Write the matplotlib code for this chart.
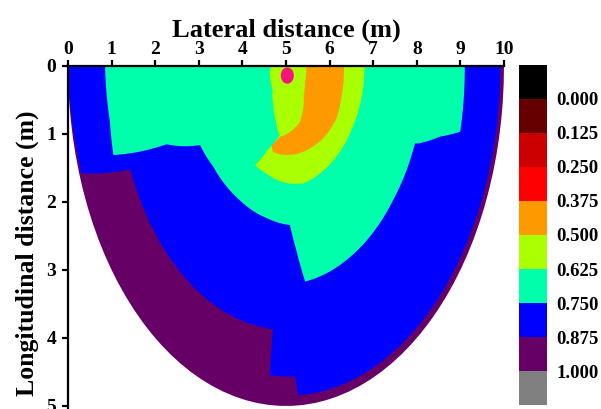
import numpy as np
import matplotlib
matplotlib.use("Agg")
import matplotlib.pyplot as plt
from matplotlib.colors import ListedColormap, BoundaryNorm
from matplotlib.colorbar import ColorbarBase
from matplotlib.patches import Ellipse

# ---------------- colour scale ----------------
LEVELS = [-0.125, 0.0, 0.125, 0.25, 0.375, 0.5, 0.625, 0.75, 0.875, 1.0, 1.125]
COLORS = ["#000000", "#660000", "#CC0000", "#FF0000", "#FF9900",
          "#AAFF00", "#00FFAA", "#0000FF", "#660066", "#808080"]
CBAR_TICKS = [0.0, 0.125, 0.25, 0.375, 0.5, 0.625, 0.75, 0.875, 1.0]
CBAR_LABELS = ["0.000", "0.125", "0.250", "0.375", "0.500",
               "0.625", "0.750", "0.875", "1.000"]

X_TICKS = [0, 1, 2, 3, 4, 5, 6, 7, 8, 9, 10]
Y_TICKS = [0, 1, 2, 3, 4, 5]

# source point
SOURCE_X = 5.03
SOURCE_Y = 0.14

# half-elliptic domain centred at (5, 0)
CENTER_X = 5.0

# ---------------- regions ----------------
# boundary of each zone in polar form about (5, 0):
# angle in degrees (0 = towards x=10 at surface, 90 = straight down, 180 = towards x=0), radius in m
PURPLE_THETA = [180, 0]
PURPLE_R = [5.0, 5.0]
PURPLE_VALUE = 0.94

BLUE_THETA = [180, 161.4, 156.9, 94.5, 94.7, 87.4, 86.7, 0]
BLUE_R = [5.0, 4.95, 3.88, 3.88, 4.56, 4.57, 4.85, 4.92]
BLUE_VALUE = 0.81

AQUA_THETA = [180, 168.6, 161.7, 159.4, 157.2, 149.5, 138.4, 118.3, 101,
              87.8, 85, 82.1, 62.3, 38.7, 21, 20.5, 16.4, 13.6, 0]
AQUA_R = [4.15, 4.12, 4.17, 3.58, 2.97, 2.29, 2.23, 2.24, 2.28,
          2.34, 2.72, 3.20, 3.17, 3.15, 3.17, 3.25, 3.68, 4.11, 4.10]
AQUA_VALUE = 0.69

YELLOW_THETA = [180, 133.2, 116.9, 105.7, 100.5, 97.9, 109, 115.9, 104.7,
                94.7, 76.9, 60.6, 34, 10.6, 0]
YELLOW_R = [0.35, 0.45, 0.64, 0.85, 0.99, 1.02, 1.31, 1.62, 1.65,
            1.70, 1.77, 1.76, 1.77, 1.80, 1.80]
YELLOW_VALUE = 0.56

ORANGE_THETA = [0, 27.6, 46.4, 68.7, 97.7, 105.9, 103.4, 86, 65.6, 47.4,
                33.6, 18.6, 1, 0]
ORANGE_R = [0.46, 0.49, 0.59, 0.88, 1.05, 1.21, 1.30, 1.31, 1.33, 1.37,
            1.39, 1.35, 1.33, 1.33]
ORANGE_VALUE = 0.44

plt.rcParams["font.family"] = ["Liberation Serif", "DejaVu Serif"]
plt.rcParams["font.weight"] = "bold"

cmap = ListedColormap(COLORS)
norm = BoundaryNorm(LEVELS, cmap.N)


def polar_outline(theta, r, through_centre):
    th = list(theta)
    rr = list(r)
    if through_centre:
        th = th + [th[-1], th[0]]
        rr = rr + [0.0, 0.0]
    th.append(th[0])
    rr.append(rr[0])
    xs, ys = [], []
    for i in range(len(th) - 1):
        t = np.linspace(th[i], th[i + 1], 60)
        q = np.linspace(rr[i], rr[i + 1], 60)
        xs.append(CENTER_X + q * np.cos(np.radians(t)))
        ys.append(q * np.sin(np.radians(t)))
    return np.concatenate(xs), np.concatenate(ys)


fig = plt.figure(figsize=(6.01, 4.09), dpi=100)
W, H = 601.0, 409.0
x0_px, x10_px = 68.0, 504.0
y0_px, ppu_y = 66.0, 68.0
ymax = 5.5
ax = fig.add_axes([x0_px / W, 1 - (y0_px + ymax * ppu_y) / H,
                   (x10_px - x0_px) / W, ymax * ppu_y / H])

regions = [
    (PURPLE_THETA, PURPLE_R, PURPLE_VALUE, True),
    (BLUE_THETA, BLUE_R, BLUE_VALUE, True),
    (AQUA_THETA, AQUA_R, AQUA_VALUE, True),
    (YELLOW_THETA, YELLOW_R, YELLOW_VALUE, True),
    (ORANGE_THETA, ORANGE_R, ORANGE_VALUE, False),
]
for th, rr, val, centre in regions:
    xs, ys = polar_outline(th, rr, centre)
    ax.fill(xs, ys, color=cmap(norm(val)), linewidth=0, zorder=1)

ax.add_patch(Ellipse((SOURCE_X, SOURCE_Y), width=0.30, height=0.24,
                     facecolor="#F5137D", edgecolor="none", zorder=3))

ax.set_xlim(0, 10)
ax.set_ylim(ymax, 0)
ax.xaxis.tick_top()
ax.xaxis.set_label_position("top")
ax.set_xticks(X_TICKS)
ax.set_yticks(Y_TICKS)
ax.set_xticklabels([str(v) for v in X_TICKS])
ax.set_yticklabels([str(v) for v in Y_TICKS])
for s in ["right", "bottom"]:
    ax.spines[s].set_visible(False)
for s in ["left", "top"]:
    ax.spines[s].set_linewidth(1.6)
ax.tick_params(axis="both", direction="out", length=4.5, width=1.6,
               labelsize=14, pad=1.5)
ax.tick_params(axis="y", pad=4)
ax.set_xlabel("Lateral distance (m)", fontsize=19, fontweight="bold", labelpad=3)
ax.set_ylabel("Longitudinal distance (m)", fontsize=18.5, fontweight="bold", labelpad=5)

cax = fig.add_axes([519 / W, 1 - 405 / H, 28 / W, 340 / H])
cb = ColorbarBase(cax, cmap=cmap, norm=norm, boundaries=LEVELS,
                  ticks=CBAR_TICKS, spacing="uniform", orientation="vertical")
cax.invert_yaxis()
cb.set_ticklabels(CBAR_LABELS)
cb.outline.set_visible(False)
cax.minorticks_off()
cax.tick_params(which="both", length=0, labelsize=13.5, pad=7)

fig.savefig("out.png", dpi=100)
